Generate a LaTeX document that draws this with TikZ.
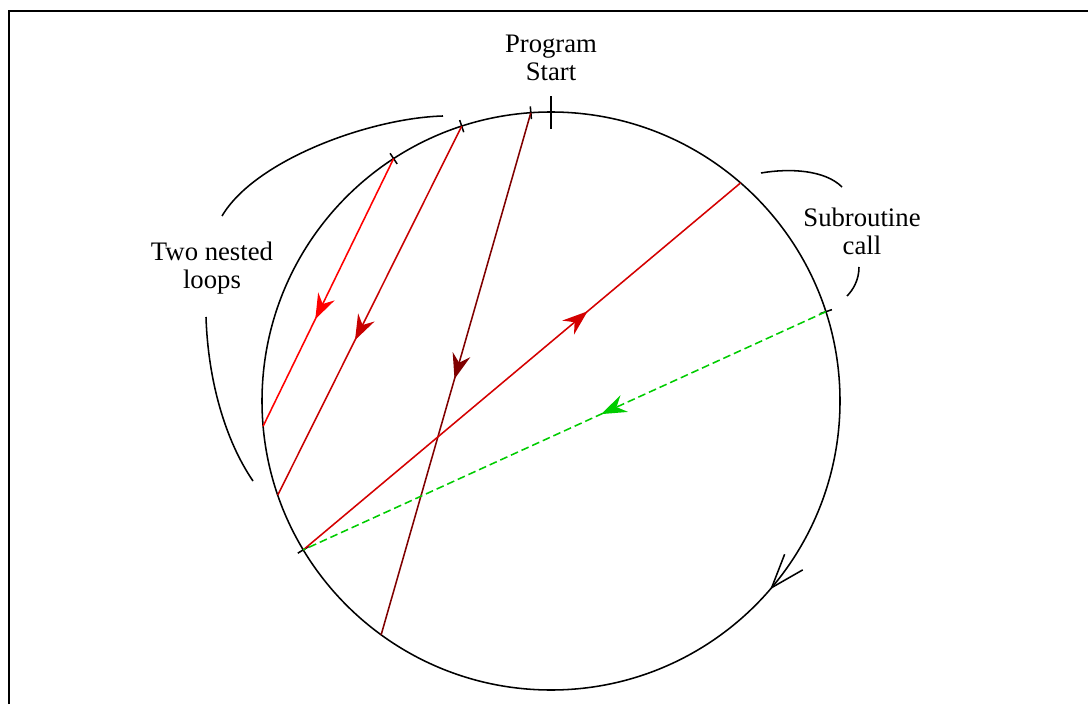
\documentclass[tikz,border=0pt]{standalone}
\usepackage{fontspec}
\setmainfont{Liberation Serif}
\usetikzlibrary{arrows.meta,decorations.markings}
\definecolor{innerred}{HTML}{FF0000}
\definecolor{outerred}{HTML}{C80000}
\definecolor{mainred}{HTML}{800000}
\definecolor{callred}{HTML}{D40000}
\definecolor{retgreen}{HTML}{00CC00}
\tikzset{
  ring/.style  ={circle, draw=black, line width=1.1pt, minimum size=14.45cm,
                 inner sep=0pt, outer sep=0pt},
  tick/.style  ={draw=black, line width=1.1pt},
  brace/.style ={draw=black, line width=1.1pt},
  frame/.style ={draw=black, line width=1.6pt},
  jump/.style  ={line width=1.1pt, postaction={decorate},
                 decoration={markings, mark=at position #1 with
                   {\arrow{Stealth[length=18pt,width=13pt,inset=6pt]}}}},
  lbl/.style   ={align=center, font=\fontsize{19}{20}\selectfont, text=black},
}

\begin{document}
\begin{tikzpicture}
\useasboundingbox (0,0) rectangle (27.2,17.6);

% ---------------- frame ----------------
\draw[frame] (0.225,0) |- (27.2,17.325);

% ---------------- program loop ----------------
\node[ring] (loop) at (13.775,7.575) {};
\path[decorate, decoration={markings, mark=at position 0.887 with
      {\arrowreversed{Straight Barb[length=24pt,width=17pt,line width=1.1pt]}}}]
  (loop.center) circle[radius=7.225cm];

% ---------------- ticks ----------------
\draw[tick] ([yshift=-0.42cm]loop.90) -- ([yshift=0.4cm]loop.90);
\foreach \a in {94.9,108.6,123.7,211.3,18.6}
  \draw[tick] ([shift={(\a:-0.16)}]loop.\a) -- ([shift={(\a:0.16)}]loop.\a);

% ---------------- jumps ----------------
\draw[jump=0.6,  draw=innerred] (loop.123.7) -- (loop.185.7);
\draw[jump=0.58, draw=outerred] (loop.108.6) -- (loop.199.5);
\draw[jump=0.51, draw=mainred]  (loop.94.9)  -- (loop.234.1);
\draw[jump=0.65, draw=callred]  (loop.211.3) -- (loop.49.1);
\draw[jump=0.43, draw=retgreen, dash pattern=on 5.5pt off 2.8pt]
     (loop.18.6) -- (loop.211.3);

% ---------------- labels ----------------
\node[lbl] (start)  at (13.775,16.16) {Program\\Start};
\node[lbl] (sub)    at (21.55,11.825) {Subroutine\\call};
\node[lbl] (nested) at (5.3,10.9)     {Two nested\\loops};

% ---------------- brackets ----------------
\draw[brace] (5.55,12.2) .. controls (6.375,13.6) and (9.25,14.65) .. (11.075,14.7);
\draw[brace] (5.15,9.675) .. controls (5.2,8.1) and (5.625,6.6) .. (6.325,5.575);
\draw[brace] (19.025,13.275) .. controls (19.75,13.4) and (20.625,13.35) .. (21.05,12.925);
\draw[brace] (21.475,10.925) .. controls (21.475,10.6) and (21.325,10.35) .. (21.175,10.2);

\end{tikzpicture}
\end{document}
